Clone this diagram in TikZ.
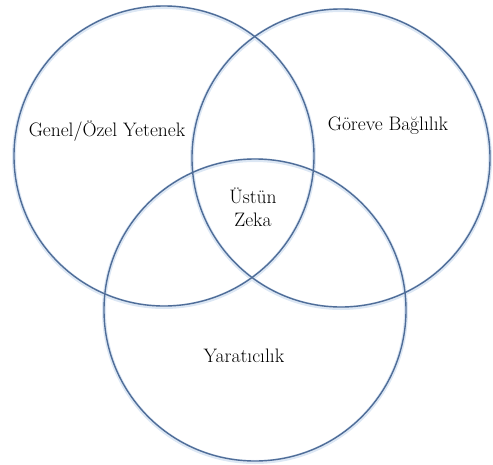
\documentclass[tikz,border=0pt]{standalone}
\usepackage{tikz}

\definecolor{ringblue}{RGB}{79,109,152}
\definecolor{ringglow}{RGB}{220,231,244}

\begin{document}
\begin{tikzpicture}[x=1pt,y=-1pt]
  \useasboundingbox (0,0) rectangle (493,464);
  % soft halo under the rings
  \draw[ringglow, line width=4pt] (164,157) circle[radius=150];
  \draw[ringglow, line width=4pt] (341,159) circle[radius=149];
  \draw[ringglow, line width=4pt] (255,311) circle[radius=151];
  \node[circle,draw=ringblue,line width=1.4pt,inner sep=0pt,minimum size=300pt] (yetenek) at (164,156) {};
  \node[circle,draw=ringblue,line width=1.4pt,inner sep=0pt,minimum size=298pt] (baglilik) at (341,158) {};
  \node[circle,draw=ringblue,line width=1.4pt,inner sep=0pt,minimum size=302pt] (yaraticilik) at (255,310) {};
  \node[font=\fontsize{19.5}{23}\selectfont] (yetenekL) at (107,131) {Genel/Özel Yetenek};
  \node[font=\fontsize{19.5}{23}\selectfont] (baglilikL) at (388,126) {Göreve Bağlılık};
  \node[font=\fontsize{19.5}{23}\selectfont,align=center] (zekaL) at (253,207) {Üstün\\Zeka};
  \node[font=\fontsize{19.5}{23}\selectfont] (yaraticilikL) at (244,356) {Yaratıcılık};
\end{tikzpicture}
\end{document}
